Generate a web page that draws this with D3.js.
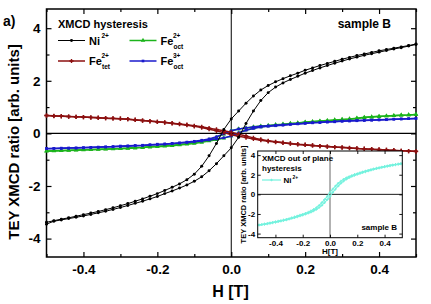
<!DOCTYPE html>
<html><head><meta charset="utf-8">
<script src="https://cdn.jsdelivr.net/npm/d3@7"></script>
<style>
html,body{margin:0;padding:0;background:#fff;}
svg{display:block;font-family:"Liberation Sans",Arial,sans-serif;font-weight:bold;}
</style></head>
<body>
<svg id="chart" width="431" height="304"></svg>
<script>
// ---------- DATA ----------
const fieldH = [-0.50,-0.48,-0.46,-0.44,-0.42,-0.40,-0.38,-0.36,-0.34,-0.32,-0.30,-0.28,-0.26,-0.24,-0.22,-0.20,-0.18,-0.16,-0.14,-0.12,-0.10,-0.08,-0.06,-0.04,-0.02,0.00,0.02,0.04,0.06,0.08,0.10,0.12,0.14,0.16,0.18,0.20,0.22,0.24,0.26,0.28,0.30,0.32,0.34,0.36,0.38,0.40,0.42,0.44,0.46,0.48,0.50];

const niDown = [-3.38,-3.32,-3.26,-3.21,-3.15,-3.09,-3.03,-2.97,-2.90,-2.83,-2.75,-2.67,-2.58,-2.49,-2.39,-2.29,-2.17,-2.05,-1.92,-1.76,-1.55,-1.25,-0.85,-0.38,0.15,0.55,0.85,1.15,1.42,1.65,1.82,1.96,2.08,2.19,2.29,2.40,2.49,2.58,2.66,2.74,2.82,2.89,2.96,3.02,3.08,3.14,3.19,3.24,3.29,3.34,3.40];
const niUp = [-3.45,-3.34,-3.29,-3.24,-3.19,-3.14,-3.08,-3.02,-2.96,-2.89,-2.82,-2.74,-2.66,-2.58,-2.49,-2.40,-2.29,-2.19,-2.08,-1.96,-1.82,-1.65,-1.42,-1.15,-0.85,-0.55,-0.15,0.38,0.85,1.25,1.55,1.76,1.92,2.05,2.17,2.29,2.39,2.49,2.58,2.67,2.75,2.83,2.90,2.97,3.03,3.09,3.15,3.21,3.26,3.32,3.38];

const feTetDown = [0.68,0.66,0.65,0.64,0.63,0.62,0.60,0.59,0.58,0.57,0.56,0.54,0.51,0.49,0.46,0.44,0.41,0.38,0.35,0.31,0.27,0.22,0.16,0.10,0.03,-0.05,-0.11,-0.16,-0.21,-0.26,-0.30,-0.33,-0.36,-0.39,-0.42,-0.44,-0.46,-0.48,-0.50,-0.52,-0.54,-0.56,-0.57,-0.59,-0.60,-0.62,-0.63,-0.65,-0.66,-0.67,-0.69];
const feTetUp = [0.68,0.67,0.66,0.64,0.63,0.62,0.61,0.60,0.58,0.57,0.56,0.54,0.52,0.49,0.47,0.44,0.42,0.39,0.36,0.33,0.29,0.25,0.20,0.15,0.10,0.04,-0.03,-0.10,-0.17,-0.23,-0.28,-0.32,-0.35,-0.38,-0.41,-0.43,-0.46,-0.48,-0.50,-0.52,-0.53,-0.55,-0.57,-0.58,-0.60,-0.61,-0.63,-0.64,-0.66,-0.67,-0.68];

const fe2OctDown = [-0.67,-0.66,-0.65,-0.64,-0.63,-0.62,-0.61,-0.60,-0.59,-0.58,-0.57,-0.56,-0.54,-0.53,-0.51,-0.49,-0.47,-0.45,-0.42,-0.39,-0.35,-0.30,-0.24,-0.15,-0.03,0.10,0.17,0.21,0.25,0.28,0.30,0.33,0.35,0.38,0.40,0.43,0.45,0.47,0.49,0.51,0.53,0.55,0.58,0.61,0.63,0.65,0.66,0.68,0.69,0.70,0.72];
const fe2OctUp = [-0.68,-0.67,-0.66,-0.65,-0.64,-0.63,-0.62,-0.61,-0.60,-0.59,-0.58,-0.57,-0.56,-0.54,-0.52,-0.51,-0.49,-0.47,-0.44,-0.41,-0.38,-0.34,-0.29,-0.24,-0.18,-0.10,0.02,0.13,0.20,0.25,0.28,0.31,0.34,0.37,0.39,0.42,0.44,0.46,0.48,0.50,0.52,0.54,0.57,0.60,0.62,0.64,0.66,0.67,0.69,0.70,0.72];

const fe3OctDown = [-0.57,-0.57,-0.56,-0.56,-0.55,-0.54,-0.53,-0.52,-0.51,-0.50,-0.48,-0.47,-0.46,-0.45,-0.43,-0.41,-0.40,-0.38,-0.36,-0.33,-0.30,-0.26,-0.21,-0.13,-0.02,0.10,0.17,0.21,0.24,0.27,0.29,0.31,0.33,0.35,0.37,0.39,0.41,0.42,0.44,0.45,0.47,0.48,0.49,0.50,0.51,0.52,0.53,0.54,0.55,0.56,0.57];
const fe3OctUp = [-0.58,-0.57,-0.57,-0.56,-0.56,-0.55,-0.54,-0.53,-0.52,-0.51,-0.50,-0.49,-0.47,-0.46,-0.44,-0.43,-0.41,-0.39,-0.37,-0.35,-0.32,-0.29,-0.25,-0.21,-0.17,-0.10,0.02,0.12,0.19,0.24,0.27,0.29,0.31,0.34,0.36,0.38,0.40,0.41,0.43,0.44,0.46,0.47,0.48,0.49,0.50,0.51,0.52,0.54,0.55,0.56,0.57];

const insetH = [-0.52,-0.50,-0.48,-0.46,-0.44,-0.42,-0.40,-0.38,-0.36,-0.34,-0.32,-0.30,-0.28,-0.26,-0.24,-0.22,-0.20,-0.18,-0.16,-0.14,-0.12,-0.10,-0.08,-0.06,-0.04,-0.02,0.00,0.02,0.04,0.06,0.08,0.10,0.12,0.14,0.16,0.18,0.20,0.22,0.24,0.26,0.28,0.30,0.32,0.34,0.36,0.38,0.40,0.42,0.44,0.46,0.48,0.50,0.52];
const insetNiDown = [-3.10,-3.06,-3.01,-2.96,-2.90,-2.85,-2.79,-2.73,-2.67,-2.61,-2.54,-2.46,-2.38,-2.30,-2.21,-2.12,-2.03,-1.93,-1.82,-1.69,-1.54,-1.35,-1.13,-0.85,-0.53,-0.20,0.20,0.53,0.85,1.13,1.35,1.54,1.69,1.82,1.93,2.03,2.12,2.21,2.30,2.38,2.46,2.54,2.61,2.67,2.73,2.79,2.85,2.90,2.96,3.01,3.06,3.10,3.15];
const insetNiUp = [-3.15,-3.10,-3.06,-3.01,-2.96,-2.90,-2.85,-2.79,-2.73,-2.67,-2.61,-2.54,-2.46,-2.38,-2.30,-2.21,-2.12,-2.03,-1.93,-1.82,-1.69,-1.54,-1.35,-1.13,-0.85,-0.53,-0.20,0.20,0.53,0.85,1.13,1.35,1.54,1.69,1.82,1.93,2.03,2.12,2.21,2.30,2.38,2.46,2.54,2.61,2.67,2.73,2.79,2.85,2.90,2.96,3.01,3.06,3.10];

const xTicks = [-0.4,-0.2,0.0,0.2,0.4];
const xMinorTicks = [-0.5,-0.3,-0.1,0.1,0.3,0.5];
const yTicks = [-4,-2,0,2,4];
const yMinorTicks = [-3,-1,1,3];
const insetXTicks = [-0.4,-0.2,0.0,0.2,0.4];
const insetYTicks = [-4,-2,0,2,4];

const seriesNames = ["Ni", "Fe", "Fe", "Fe"];

// ---------- CHART ----------
const svg = d3.select("#chart");
const m = {left:46.5, right:416, top:9, bottom:257};

const x = d3.scaleLinear().domain([-0.5,0.5]).range([m.left, m.right]);
const y = d3.scaleLinear().domain([-4.7,4.73]).range([m.bottom, m.top]);

const COL = {ni:"#000000", tet:"#8c1010", oct2:"#1cb41c", oct3:"#1a1acc", inset:"#74f2de"};

// zero lines
svg.append("line").attr("x1",x(-0.5)).attr("x2",x(0.5)).attr("y1",y(0)).attr("y2",y(0)).attr("stroke","#000").attr("stroke-width",1.2);
svg.append("line").attr("x1",x(0)).attr("x2",x(0)).attr("y1",m.top).attr("y2",m.bottom).attr("stroke","#000").attr("stroke-width",1);

function tickAxis(g, axis){ g.call(axis); g.select(".domain").remove(); g.selectAll(".tick line").attr("stroke","#000").attr("stroke-width",1.2); }

const gxb = svg.append("g").attr("transform",`translate(0,${m.bottom})`);
tickAxis(gxb, d3.axisBottom(x).tickValues(xTicks).tickSizeInner(-5).tickSizeOuter(0).tickPadding(7).tickFormat(d=>d.toFixed(1)));
gxb.selectAll("text").attr("font-size",13.5).attr("font-weight","bold").attr("font-family","Liberation Sans, Arial").attr("fill","#000");
const gxbm = svg.append("g").attr("transform",`translate(0,${m.bottom})`);
tickAxis(gxbm, d3.axisBottom(x).tickValues(xMinorTicks).tickSizeInner(-3).tickSizeOuter(0).tickFormat(""));
const gxt = svg.append("g").attr("transform",`translate(0,${m.top})`);
tickAxis(gxt, d3.axisTop(x).tickValues(xTicks).tickSizeInner(-5).tickSizeOuter(0).tickFormat(""));
const gxtm = svg.append("g").attr("transform",`translate(0,${m.top})`);
tickAxis(gxtm, d3.axisTop(x).tickValues(xMinorTicks).tickSizeInner(-3).tickSizeOuter(0).tickFormat(""));

const gyl = svg.append("g").attr("transform",`translate(${m.left},0)`);
tickAxis(gyl, d3.axisLeft(y).tickValues(yTicks).tickSizeInner(-5).tickSizeOuter(0).tickPadding(6).tickFormat(d=>String(d)));
gyl.selectAll("text").attr("font-size",13.5).attr("font-weight","bold").attr("font-family","Liberation Sans, Arial").attr("fill","#000");
const gylm = svg.append("g").attr("transform",`translate(${m.left},0)`);
tickAxis(gylm, d3.axisLeft(y).tickValues(yMinorTicks).tickSizeInner(-3).tickSizeOuter(0).tickFormat(""));
const gyr = svg.append("g").attr("transform",`translate(${m.right},0)`);
tickAxis(gyr, d3.axisRight(y).tickValues(yTicks).tickSizeInner(-5).tickSizeOuter(0).tickFormat(""));
const gyrm = svg.append("g").attr("transform",`translate(${m.right},0)`);
tickAxis(gyrm, d3.axisRight(y).tickValues(yMinorTicks).tickSizeInner(-3).tickSizeOuter(0).tickFormat(""));

svg.append("rect").attr("x",m.left).attr("y",m.top).attr("width",m.right-m.left).attr("height",m.bottom-m.top)
  .attr("fill","none").attr("stroke","#000").attr("stroke-width",1.5);

const line = d3.line().x(d=>x(d[0])).y(d=>y(d[1]));
const sym = {
  circle: d3.symbol().type(d3.symbolCircle).size(7),
  plus: d3.symbol().type(d3.symbolCross).size(10),
  tri: d3.symbol().type(d3.symbolTriangle).size(9),
  square: d3.symbol().type(d3.symbolSquare).size(7)
};
function drawSeries(vals, color, marker, lw){
  const pts = fieldH.map((h,i)=>[h, vals[i]]);
  svg.append("path").datum(pts).attr("d",line).attr("fill","none").attr("stroke",color).attr("stroke-width",lw);
  svg.append("g").selectAll("path").data(pts).join("path")
    .attr("transform",d=>`translate(${x(d[0])},${y(d[1])})`).attr("d",sym[marker]).attr("fill",color);
}
drawSeries(fe2OctDown, COL.oct2, "tri", 1.5);
drawSeries(fe2OctUp, COL.oct2, "tri", 1.5);
drawSeries(fe3OctDown, COL.oct3, "square", 1.5);
drawSeries(fe3OctUp, COL.oct3, "square", 1.5);
drawSeries(feTetDown, COL.tet, "plus", 1.5);
drawSeries(feTetUp, COL.tet, "plus", 1.5);
drawSeries(niDown, COL.ni, "circle", 1);
drawSeries(niUp, COL.ni, "circle", 1);

function txt(t, xx, yy, size, anchor){ return svg.append("text").attr("x",xx).attr("y",yy).attr("font-size",size).attr("font-weight","bold").attr("text-anchor",anchor||"start").attr("fill","#000").text(t); }
txt("a)", 3, 26, 14);
txt("XMCD hysteresis", 58, 27.5, 11);
txt("sample B", 391, 27.5, 12, "end");
svg.append("text").attr("transform","translate(18.5,142) rotate(-90)").attr("text-anchor","middle")
  .attr("font-size",15).attr("font-weight","bold").text("TEY XMCD ratio [arb. units]");
txt("H [T]", 230.5, 297, 16, "middle");

function legItem(lx, ly, color, marker, lw, base, sup, sub){
  svg.append("line").attr("x1",lx).attr("x2",lx+27).attr("y1",ly).attr("y2",ly).attr("stroke",color).attr("stroke-width",lw);
  svg.append("path").attr("transform",`translate(${lx+13.5},${ly})`).attr("d",sym[marker]).attr("fill",color);
  const bw = 12;
  txt(base, lx+31, ly+4, 11);
  txt(sup, lx+31+bw+0.5, ly-3, 6.5);
  if(sub) txt(sub, lx+31+bw+1, ly+8, 6.5);
}
legItem(58, 40.5, COL.ni, "circle", 1, seriesNames[0], "2+", null);
legItem(129.5, 40.5, COL.oct2, "tri", 1.5, seriesNames[1], "2+", "oct");
legItem(58, 61, COL.tet, "plus", 1.5, seriesNames[2], "2+", "tet");
legItem(129.5, 61, COL.oct3, "square", 1.5, seriesNames[3], "3+", "oct");

// ---------- INSET ----------
const im = {left:257.7, right:402.3, top:151, bottom:237.7};
const ix = d3.scaleLinear().domain([-0.53,0.53]).range([im.left, im.right]);
const iy = d3.scaleLinear().domain([-4.42,4.42]).range([im.bottom, im.top]);
svg.append("rect").attr("x",im.left).attr("y",im.top).attr("width",im.right-im.left).attr("height",im.bottom-im.top).attr("fill","#fff");
svg.append("line").attr("x1",im.left).attr("x2",im.right).attr("y1",iy(0)).attr("y2",iy(0)).attr("stroke","#000").attr("stroke-width",0.9);
svg.append("line").attr("x1",ix(0)).attr("x2",ix(0)).attr("y1",im.top).attr("y2",im.bottom).attr("stroke","#666").attr("stroke-width",1);

function iAxis(g, axis){ g.call(axis); g.select(".domain").remove(); g.selectAll(".tick line").attr("stroke","#000").attr("stroke-width",0.9);
  g.selectAll("text").attr("font-size",8).attr("font-weight","bold").attr("font-family","Liberation Sans, Arial").attr("fill","#000"); }
iAxis(svg.append("g").attr("transform",`translate(0,${im.bottom})`),
  d3.axisBottom(ix).tickValues(insetXTicks).tickSizeInner(-3).tickSizeOuter(0).tickPadding(2.5).tickFormat(d=>d.toFixed(1)));
iAxis(svg.append("g").attr("transform",`translate(0,${im.top})`),
  d3.axisTop(ix).tickValues(insetXTicks).tickSizeInner(-3).tickSizeOuter(0).tickFormat(""));
iAxis(svg.append("g").attr("transform",`translate(${im.left},0)`),
  d3.axisLeft(iy).tickValues(insetYTicks).tickSizeInner(-3).tickSizeOuter(0).tickPadding(2.5).tickFormat(d=>String(d)));
iAxis(svg.append("g").attr("transform",`translate(${im.right},0)`),
  d3.axisRight(iy).tickValues(insetYTicks).tickSizeInner(-3).tickSizeOuter(0).tickFormat(""));

const iline = d3.line().x(d=>ix(d[0])).y(d=>iy(d[1]));
const isym = d3.symbol().type(d3.symbolCross).size(4);
[insetNiDown, insetNiUp].forEach(vals=>{
  const pts = insetH.map((h,i)=>[h, vals[i]]);
  svg.append("path").datum(pts).attr("d",iline).attr("fill","none").attr("stroke",COL.inset).attr("stroke-width",1.1);
  svg.append("g").selectAll("path").data(pts).join("path")
    .attr("transform",d=>`translate(${ix(d[0])},${iy(d[1])})`).attr("d",isym).attr("fill",COL.inset);
});
svg.append("rect").attr("x",im.left).attr("y",im.top).attr("width",im.right-im.left).attr("height",im.bottom-im.top)
  .attr("fill","none").attr("stroke","#000").attr("stroke-width",1);

txt("XMCD out of plane", 262, 161, 8);
txt("hysteresis", 262, 171, 8);
svg.append("line").attr("x1",262).attr("x2",281).attr("y1",180).attr("y2",180).attr("stroke",COL.inset).attr("stroke-width",1.2);
svg.append("path").attr("transform","translate(271.5,180)").attr("d",isym).attr("fill",COL.inset);
txt("Ni", 283.5, 183, 8);
txt("2+", 292.5, 178.5, 5);
txt("sample B", 397, 230, 8, "end");
txt("H[T]", 330, 253.5, 8, "middle");
svg.append("text").attr("transform","translate(245.5,194.5) rotate(-90)").attr("text-anchor","middle")
  .attr("font-size",7.5).attr("font-weight","bold").text("TEY XMCD ratio [arb. units]");
</script>
</body></html>
